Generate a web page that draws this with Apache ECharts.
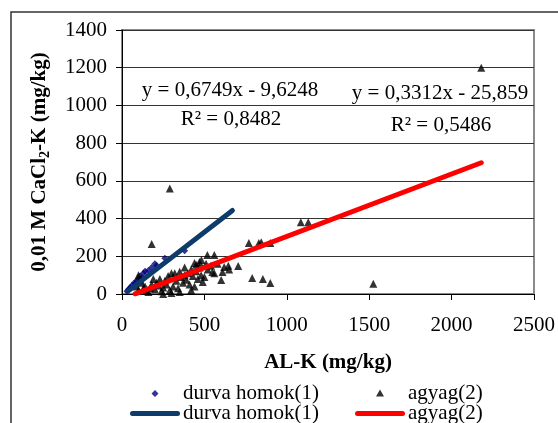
<!DOCTYPE html>
<html>
<head>
<meta charset="utf-8">
<script src="https://cdn.jsdelivr.net/npm/echarts@6/dist/echarts.min.js"></script>
<style>
html,body{margin:0;padding:0;background:#fff;}
#c{width:558px;height:423px;}
</style>
</head>
<body>
<div id="c"></div>
<script>
// ---- data ----
const xTicks = [0, 500, 1000, 1500, 2000, 2500];
const yTicks = [0, 200, 400, 600, 800, 1000, 1200, 1400];

const durvaName = 'durva homok(1)';
const agyagName = 'agyag(2)';

// durva homok(1): [AL-K, CaCl2-K]
const durvaPoints = [
  [30, 15], [40, 25], [50, 35], [60, 45], [75, 60], [80, 55], [90, 70],
  [100, 80], [110, 95], [120, 85], [130, 110], [140, 120], [160, 125],
  [180, 140], [200, 160], [210, 150], [260, 190], [380, 230]
];

// agyag(2): [AL-K, CaCl2-K]
const agyagPoints = [
  [290, 560], [180, 265], [2180, 1200], [1525, 55], [1085, 380], [1130, 380],
  [770, 270], [830, 270], [845, 275], [900, 270], [790, 85], [855, 80], [900, 58],
  [705, 148], [602, 74], [620, 143], [645, 150], [650, 130], [610, 117], [548, 117],
  [518, 207], [560, 207], [482, 180], [470, 170], [450, 155], [440, 165], [500, 90], [490, 64],
  [100, 100], [120, 60], [140, 40], [150, 20], [160, 10], [170, 30], [180, 50], [200, 25],
  [210, 60], [220, 45], [230, 80], [240, 15], [250, 35], [260, 70], [270, 50], [280, 95],
  [290, 20], [300, 110], [310, 40], [320, 110], [330, 70], [340, 30], [350, 118], [360, 90],
  [370, 60], [380, 100], [390, 75], [400, 110], [410, 50], [420, 130], [430, 95], [450, 120],
  [460, 80], [470, 140], [480, 100], [520, 130], [540, 150], [560, 110], [580, 160],
  [420, 20], [300, 5], [250, 0], [100, 20], [130, 30], [90, 40], [110, 75], [190, 80],
  [350, 10], [440, 40], [510, 160], [380, 140]
];

// trend line end points
const durvaTrend = [[35, 14], [670, 443]];
const agyagTrend = [[80, 1], [2180, 696]];

const durvaEq = ['y = 0,6749x - 9,6248', 'R² = 0,8482'];
const agyagEq = ['y = 0,3312x - 25,859', 'R² = 0,5486'];

const xName = 'AL-K (mg/kg)';

// ---- chart ----
const FONT = '"Liberation Serif", "Times New Roman", serif';
const FS = 21;
const chart = echarts.init(document.getElementById('c'), null, {renderer: 'canvas'});

// icons spanning a 50x8 box (tiny corner anchors fix the bounding box)
const anchors = 'M0,0 L0,0.01 L0.01,0 Z M50,8 L50,7.99 L49.99,8 Z ';
const diamondIcon = 'path://' + anchors + 'M25,0.5 L28.5,4 L25,7.5 L21.5,4 Z';
const triIcon = 'path://' + anchors + 'M25,0 L29,7 L21,7 Z';
const lineIcon = 'path://M2.5,0 L47.5,0 A2.5,2.5 0 0 1 47.5,5 L2.5,5 A2.5,2.5 0 0 1 2.5,0 Z';

function legendAt(left, top, name, icon, h) {
  return {
    left: left, top: top, padding: 0, itemWidth: 50, itemHeight: h, itemGap: 0,
    data: [{name: name, icon: icon}],
    selectedMode: false,
    textStyle: {fontFamily: FONT, fontSize: FS, color: '#000', padding: [0, 0, 0, -2]}
  };
}

const option = {
  backgroundColor: '#fff',
  animation: false,
  textStyle: {fontFamily: FONT},
  grid: {left: 122, right: 21, top: 30, bottom: 129, show: true, borderColor: '#8a8a8a', borderWidth: 2},
  xAxis: {
    type: 'value', min: 0, max: 2500, interval: 500,
    name: xName, nameLocation: 'middle', nameGap: 58,
    nameTextStyle: {fontFamily: FONT, fontSize: FS, fontWeight: 'bold', color: '#000'},
    axisLine: {show: true, onZero: false, lineStyle: {color: '#000', width: 1}},
    axisTick: {show: true, inside: false, length: 6, lineStyle: {color: '#000'}},
    axisLabel: {margin: 21, fontFamily: FONT, fontSize: FS, color: '#000', formatter: v => String(v)},
    splitLine: {show: false}
  },
  yAxis: {
    type: 'value', min: 0, max: 1400, interval: 200,
    name: '{a|0,01 M CaCl}{s|2}{a|-K (mg/kg)}', nameLocation: 'middle', nameGap: 70, nameRotate: 90,
    nameTextStyle: {
      fontFamily: FONT, fontSize: FS, fontWeight: 'bold', color: '#000',
      rich: {
        a: {fontFamily: FONT, fontSize: FS, fontWeight: 'bold', color: '#000'},
        s: {fontFamily: FONT, fontSize: 14, fontWeight: 'bold', color: '#000', padding: [10, 0, 0, 0]}
      }
    },
    axisLine: {show: true, onZero: false, lineStyle: {color: '#000', width: 1}},
    axisTick: {show: true, inside: false, length: 6, lineStyle: {color: '#000'}},
    axisLabel: {margin: 15, fontFamily: FONT, fontSize: FS, color: '#000', formatter: v => String(v)},
    splitLine: {show: true, lineStyle: {color: '#333', width: 1}}
  },
  legend: [
    legendAt(130, 383, durvaName, diamondIcon, 8),
    legendAt(355, 383, agyagName, triIcon, 8),
    legendAt(130, 403, durvaName + '\u200B', lineIcon, 5),
    legendAt(355, 403, agyagName + '\u200B', lineIcon, 5)
  ],
  graphic: [
    {type: 'rect', shape: {x: 11, y: 12, width: 600, height: 500}, style: {fill: 'none', stroke: '#333', lineWidth: 1.5}, silent: true},
    {type: 'text', x: 230, y: 90, style: {text: durvaEq[0], font: FS + 'px ' + FONT, fill: '#000', textAlign: 'center', textVerticalAlign: 'middle'}},
    {type: 'text', x: 231, y: 119, style: {text: durvaEq[1], font: FS + 'px ' + FONT, fill: '#000', textAlign: 'center', textVerticalAlign: 'middle'}},
    {type: 'text', x: 440, y: 93, style: {text: agyagEq[0], font: FS + 'px ' + FONT, fill: '#000', textAlign: 'center', textVerticalAlign: 'middle'}},
    {type: 'text', x: 441, y: 125, style: {text: agyagEq[1], font: FS + 'px ' + FONT, fill: '#000', textAlign: 'center', textVerticalAlign: 'middle'}}
  ],
  series: [
    {name: durvaName, type: 'scatter', data: durvaPoints, symbol: 'diamond', symbolSize: 7,
      itemStyle: {color: '#000080'}, z: 3},
    {name: agyagName, type: 'scatter', data: agyagPoints, symbol: 'triangle', symbolSize: 8,
      itemStyle: {color: '#000'}, z: 3},
    {name: durvaName + '\u200B', type: 'line', data: durvaTrend, symbol: 'none', showSymbol: false,
      itemStyle: {color: '#0d3b6b'}, lineStyle: {color: '#0d3b6b', width: 5, cap: 'round'}, z: 4},
    {name: agyagName + '\u200B', type: 'line', data: agyagTrend, symbol: 'none', showSymbol: false,
      itemStyle: {color: '#ff0000'}, lineStyle: {color: '#ff0000', width: 5, cap: 'round'}, z: 4}
  ]
};
chart.setOption(option);
</script>
</body>
</html>
